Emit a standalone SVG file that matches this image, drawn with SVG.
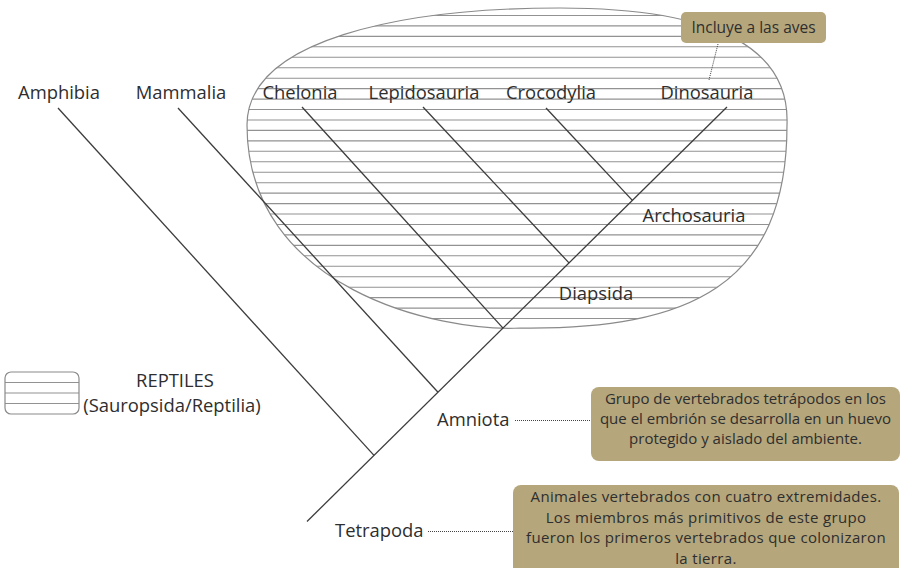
<svg xmlns="http://www.w3.org/2000/svg" width="913" height="568" viewBox="0 0 913 568">
<style>
.lbl{font-family:"Open Sans","Liberation Sans",sans-serif;font-size:18.4px;fill:#2e2e2e}
.box{fill:#b5a67c}
.btx{font-family:"Open Sans","Liberation Sans",sans-serif;font-size:15px;fill:#2e2e2e;text-anchor:middle}
.big{letter-spacing:0.35px}
.br{stroke:#3c3c3c;stroke-width:1.3;fill:none}
.hat{stroke:#929292;stroke-width:1.1}
.dot{stroke:#444;stroke-width:1;stroke-dasharray:1 1;fill:none}
</style>
<defs>
<clipPath id="egg"><path id="eggp" d="M247,125 C247,40 400,8 560,8 C720,8 790,50 787,125 C787,285 690,330 520,328 C440,332 247,290 247,125 Z"/></clipPath>
<clipPath id="leg"><rect x="5" y="372" width="74" height="42" rx="6"/></clipPath>
</defs>
<rect width="913" height="568" fill="#fff"/>
<g id="reptiles-area">
<g clip-path="url(#egg)" class="hat">
<line x1="240" x2="800" y1="15.5" y2="15.5"/><line x1="240" x2="800" y1="25.9" y2="25.9"/><line x1="240" x2="800" y1="36.4" y2="36.4"/><line x1="240" x2="800" y1="46.8" y2="46.8"/><line x1="240" x2="800" y1="57.3" y2="57.3"/><line x1="240" x2="800" y1="67.7" y2="67.7"/><line x1="240" x2="800" y1="78.2" y2="78.2"/><line x1="240" x2="800" y1="88.6" y2="88.6"/><line x1="240" x2="800" y1="99.1" y2="99.1"/><line x1="240" x2="800" y1="109.5" y2="109.5"/><line x1="240" x2="800" y1="120" y2="120"/><line x1="240" x2="800" y1="130.4" y2="130.4"/><line x1="240" x2="800" y1="140.9" y2="140.9"/><line x1="240" x2="800" y1="151.3" y2="151.3"/><line x1="240" x2="800" y1="161.8" y2="161.8"/><line x1="240" x2="800" y1="172.2" y2="172.2"/><line x1="240" x2="800" y1="182.7" y2="182.7"/><line x1="240" x2="800" y1="193.1" y2="193.1"/><line x1="240" x2="800" y1="203.6" y2="203.6"/><line x1="240" x2="800" y1="214" y2="214"/><line x1="240" x2="800" y1="224.5" y2="224.5"/><line x1="240" x2="800" y1="234.9" y2="234.9"/><line x1="240" x2="800" y1="245.4" y2="245.4"/><line x1="240" x2="800" y1="255.8" y2="255.8"/><line x1="240" x2="800" y1="266.3" y2="266.3"/><line x1="240" x2="800" y1="276.7" y2="276.7"/><line x1="240" x2="800" y1="287.2" y2="287.2"/><line x1="240" x2="800" y1="297.6" y2="297.6"/><line x1="240" x2="800" y1="308.1" y2="308.1"/><line x1="240" x2="800" y1="318.5" y2="318.5"/>
</g>
<use href="#eggp" fill="none" stroke="#8a8a8a" stroke-width="1.2"/>
</g>
<g id="connectors">
<line class="br" x1="307" y1="521.5" x2="727" y2="107"/>
<line class="br" x1="58" y1="108" x2="374" y2="455.4"/>
<line class="br" x1="178" y1="108" x2="438" y2="392.2"/>
<line class="br" x1="302" y1="107" x2="503" y2="328.1"/>
<line class="br" x1="423" y1="107" x2="569" y2="262.9"/>
<line class="br" x1="546" y1="108" x2="632.4" y2="200.4"/>
<line class="dot" x1="718" y1="44" x2="709" y2="80"/>
<line class="dot" x1="515" y1="420.5" x2="590" y2="420.5"/>
<line class="dot" x1="428" y1="531.5" x2="513" y2="531.5"/>
</g>
<g id="amphibia"><text class="lbl" x="59" y="99" text-anchor="middle">Amphibia</text></g>
<g id="mammalia"><text class="lbl" x="181" y="99" text-anchor="middle">Mammalia</text></g>
<g id="chelonia"><text class="lbl" x="300" y="99" text-anchor="middle">Chelonia</text></g>
<g id="lepidosauria"><text class="lbl" x="424" y="99" text-anchor="middle">Lepidosauria</text></g>
<g id="crocodylia"><text class="lbl" x="551" y="99" text-anchor="middle">Crocodylia</text></g>
<g id="dinosauria"><text class="lbl" x="707" y="99" text-anchor="middle">Dinosauria</text></g>
<g id="archosauria"><text class="lbl" x="694" y="222" text-anchor="middle">Archosauria</text></g>
<g id="diapsida"><text class="lbl" x="596" y="300" text-anchor="middle">Diapsida</text></g>
<g id="amniota"><text class="lbl" x="437" y="426">Amniota</text></g>
<g id="tetrapoda"><text class="lbl" x="335" y="537">Tetrapoda</text></g>
<g id="note-aves">
<rect class="box" x="681" y="12" width="145" height="31" rx="5"/>
<text class="btx" x="753.5" y="33" style="font-size:15.5px">Incluye a las aves</text>
</g>
<g id="note-amniota">
<rect class="box" x="591" y="387" width="309" height="74" rx="8"/>
<text class="btx" x="745.5" y="404">Grupo de vertebrados tetrápodos en los</text>
<text class="btx" x="745.5" y="424">que el embrión se desarrolla en un huevo</text>
<text class="btx" x="745.5" y="444">protegido y aislado del ambiente.</text>
</g>
<g id="note-tetrapoda">
<rect class="box" x="513" y="485" width="386" height="95" rx="8"/>
<text class="btx big" x="706" y="502">Animales vertebrados con cuatro extremidades.</text>
<text class="btx big" x="706" y="522.5">Los miembros más primitivos de este grupo</text>
<text class="btx big" x="706" y="543">fueron los primeros vertebrados que colonizaron</text>
<text class="btx big" x="706" y="563.5">la tierra.</text>
</g>
<g id="legend">
<g clip-path="url(#leg)" class="hat">
<line x1="0" x2="90" y1="382.5" y2="382.5"/><line x1="0" x2="90" y1="393" y2="393"/><line x1="0" x2="90" y1="403.5" y2="403.5"/>
</g>
<rect x="5" y="372" width="74" height="42" rx="6" fill="none" stroke="#8a8a8a" stroke-width="1.2"/>
<text class="lbl" x="175" y="387" text-anchor="middle">REPTILES</text>
<text class="lbl" x="172" y="412" text-anchor="middle">(Sauropsida/Reptilia)</text>
</g>
</svg>
